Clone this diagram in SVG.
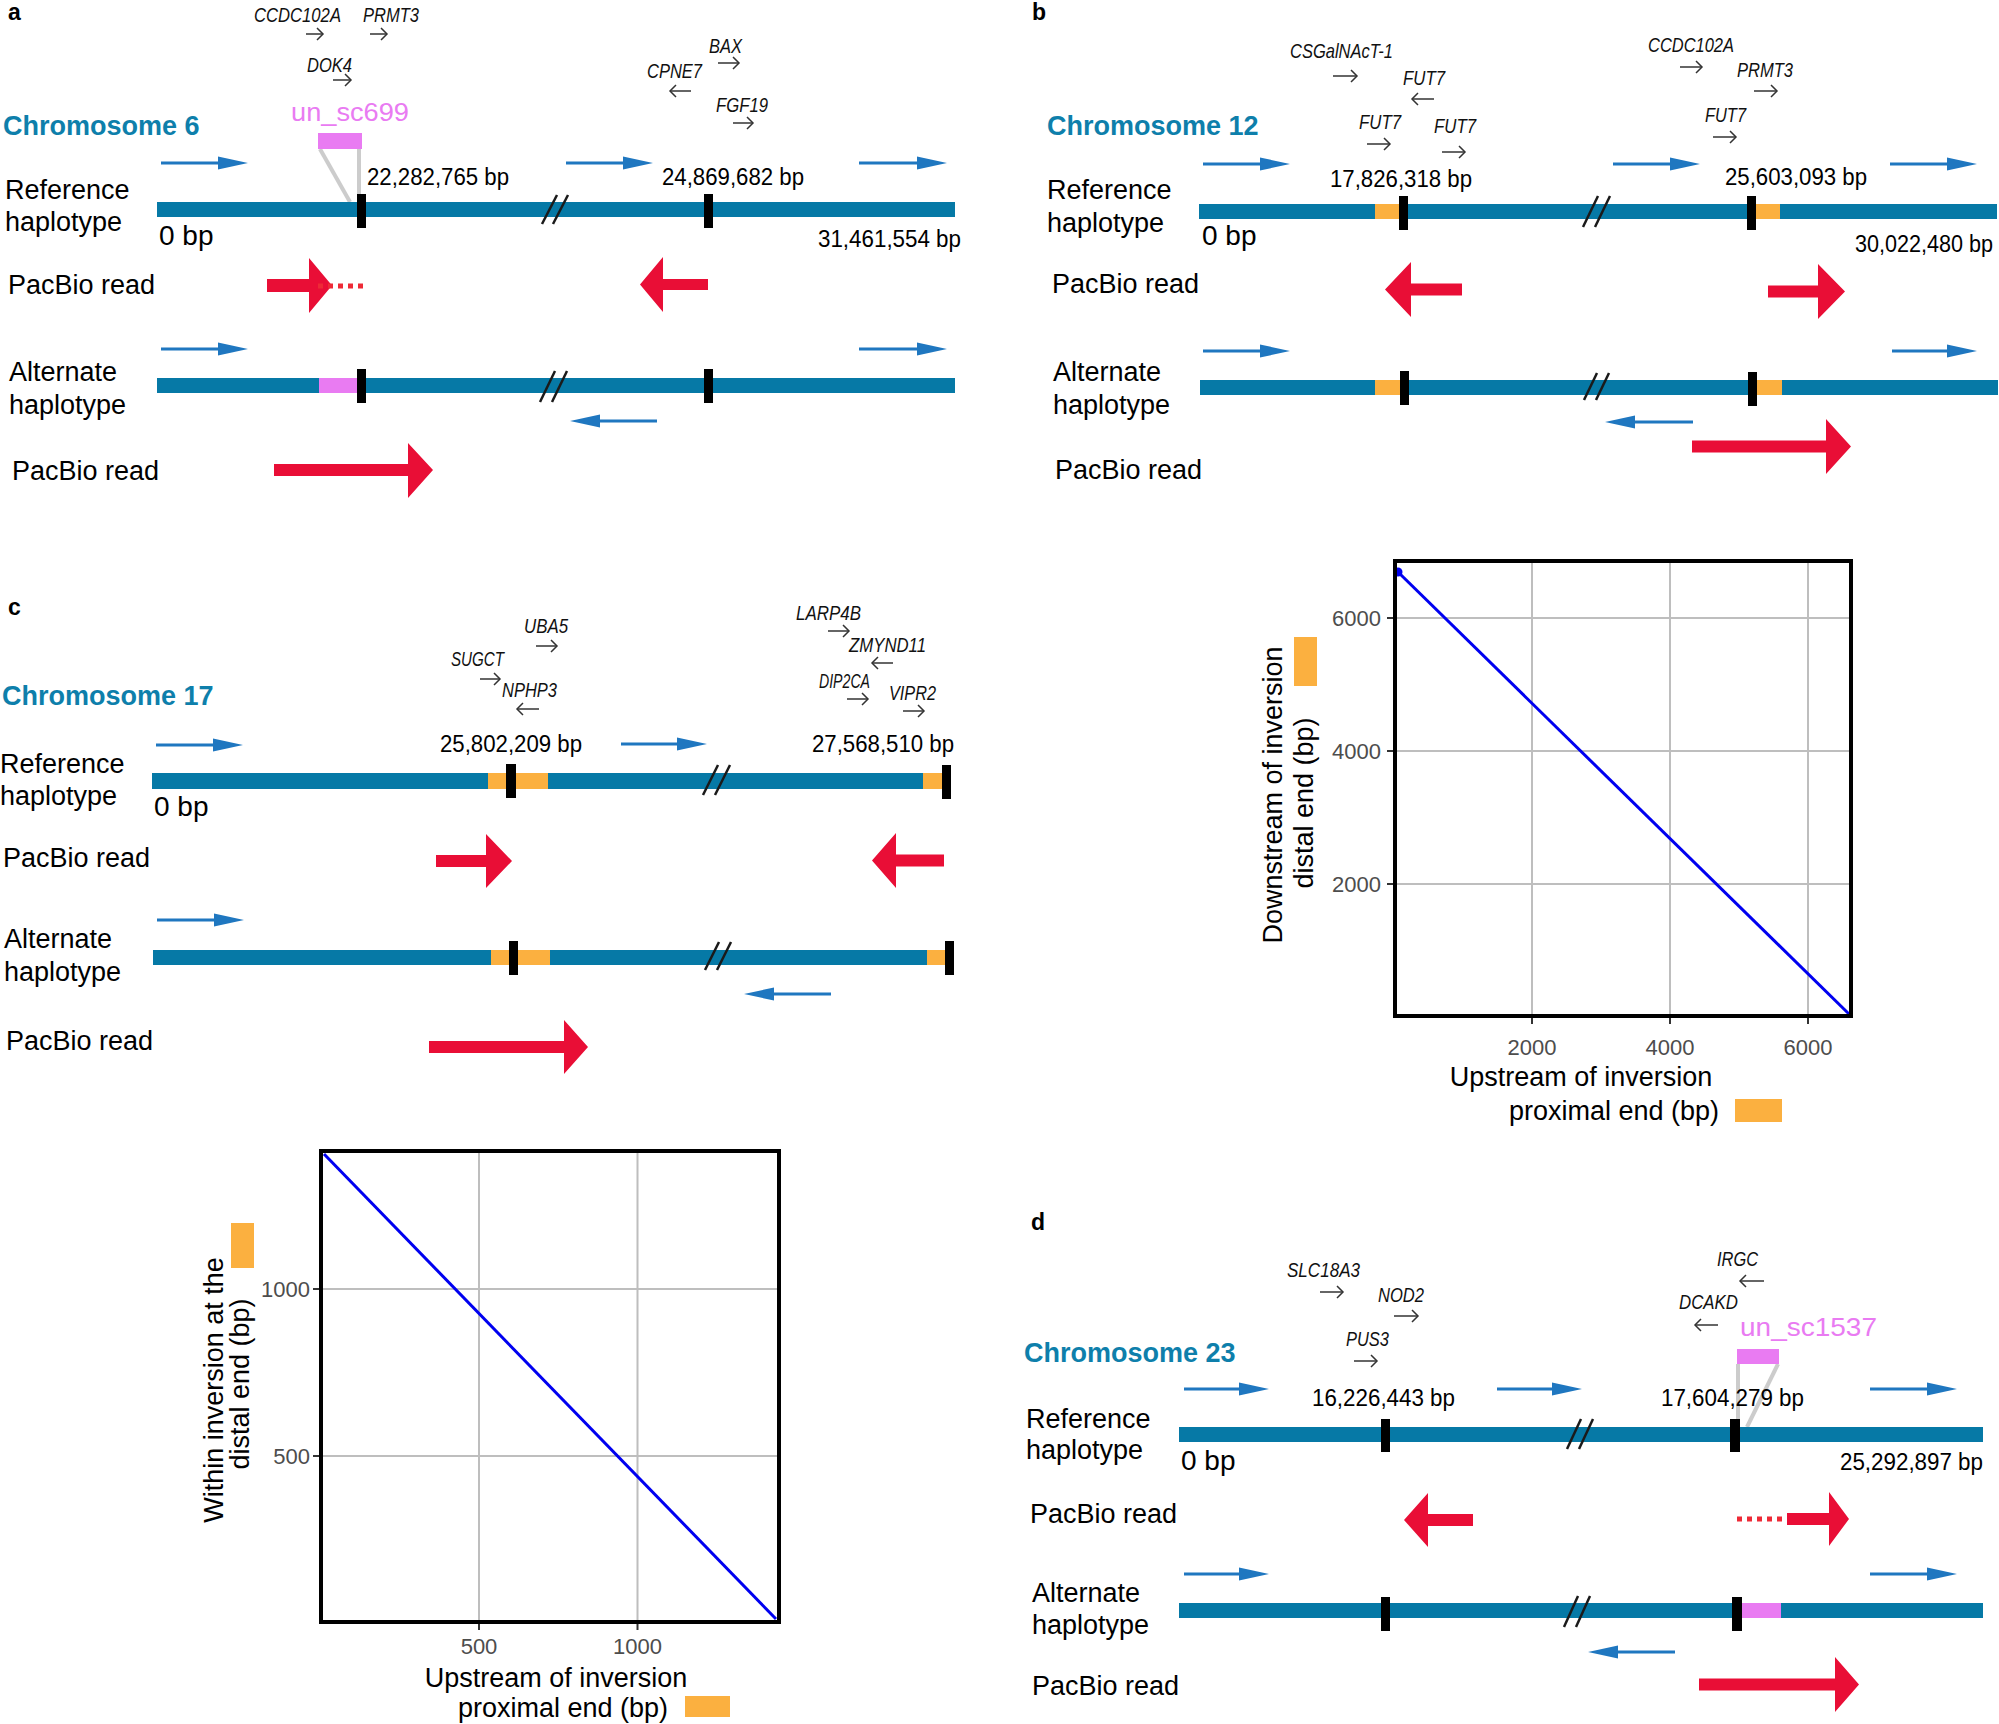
<svg xmlns="http://www.w3.org/2000/svg" width="1999" height="1724" viewBox="0 0 1999 1724">
<defs>
<marker id="bh" markerUnits="userSpaceOnUse" markerWidth="32" markerHeight="14" refX="0" refY="6.5" orient="auto" overflow="visible"><path d="M0,0 L30,6.5 L0,13 z" fill="#1f77c0"/></marker>
<marker id="gh" markerUnits="userSpaceOnUse" markerWidth="10" markerHeight="16" refX="6" refY="6" orient="auto" overflow="visible"><path d="M0,0 L6,6 L0,12" fill="none" stroke="#333" stroke-width="1.5"/></marker>
</defs>
<style>
text{font-family:"Liberation Sans",Arial,sans-serif;fill:#000}
.lab{font-size:27px}
.chr{font-size:27px;font-weight:bold;fill:#0e7fab}
.pl{font-size:23px;font-weight:bold}
.gene{font-size:21px;font-style:italic;fill:#111}
.bp{font-size:23px}
.zb{font-size:28px}
.un{font-size:26px;fill:#e97bf2}
.ax{font-size:27px}
.tk{font-size:22px;fill:#4d4d4d}
.bar{fill:#0679a6}
.org{fill:#fbb040}
.pink{fill:#e97bf2}
.red{fill:#e90e36}
.brk{stroke:#1a1a1a;stroke-width:2.5}
.bl{stroke:#1f77c0;stroke-width:3;fill:none;marker-end:url(#bh)}
.ga{stroke:#333;stroke-width:1.5;fill:none;marker-end:url(#gh)}
.gl{stroke:#cccccc;stroke-width:4}
.dot{stroke:#ee2a36;stroke-width:5;stroke-dasharray:5 5}
.grid{stroke:#bebebe;stroke-width:2}
.frame{fill:none;stroke:#000;stroke-width:4}
.dl{stroke:#0000f0;stroke-width:3}
.axt{stroke:#333;stroke-width:2}
</style>
<rect width="1999" height="1724" fill="#fff"/>

<g id="connectors">
<line class="gl" x1="320" y1="149" x2="350" y2="202"/>
<line class="gl" x1="359" y1="149" x2="359" y2="196"/>
<line class="gl" x1="1738" y1="1364" x2="1738" y2="1427"/>
<line class="gl" x1="1778" y1="1364" x2="1747" y2="1427"/>
</g>

<!-- Panel a -->
<g id="panel-a">
<text class="pl" x="8" y="20">a</text>
<g id="a-genes">
<text class="gene" x="254" y="22" textLength="87" lengthAdjust="spacingAndGlyphs">CCDC102A</text>
<text class="gene" x="363" y="22" textLength="56" lengthAdjust="spacingAndGlyphs">PRMT3</text>
<text class="gene" x="307" y="72" textLength="45" lengthAdjust="spacingAndGlyphs">DOK4</text>
<text class="gene" x="709" y="53" textLength="33" lengthAdjust="spacingAndGlyphs">BAX</text>
<text class="gene" x="647" y="78" textLength="55" lengthAdjust="spacingAndGlyphs">CPNE7</text>
<text class="gene" x="716" y="112" textLength="52" lengthAdjust="spacingAndGlyphs">FGF19</text>
<line class="ga" x1="306" y1="34" x2="323" y2="34"/>
<line class="ga" x1="370" y1="34" x2="387" y2="34"/>
<line class="ga" x1="333" y1="80" x2="351" y2="80"/>
<line class="ga" x1="718" y1="63" x2="739" y2="63"/>
<line class="ga" x1="691" y1="91" x2="670" y2="91"/>
<line class="ga" x1="733" y1="123" x2="753" y2="123"/>
</g>
<text class="chr" x="3" y="135">Chromosome 6</text>
<text class="un" x="291" y="121" textLength="118" lengthAdjust="spacingAndGlyphs">un_sc699</text>
<rect class="pink" x="318" y="133" width="44" height="16"/>
<text class="lab" x="5" y="199">Reference</text>
<text class="lab" x="5" y="231">haplotype</text>
<text class="lab" x="8" y="294">PacBio read</text>
<text class="lab" x="9" y="381">Alternate</text>
<text class="lab" x="9" y="414">haplotype</text>
<text class="lab" x="12" y="480">PacBio read</text>
<g id="a-ref">
<line class="bl" x1="161" y1="163" x2="218" y2="163"/>
<line class="bl" x1="566" y1="163" x2="623" y2="163"/>
<line class="bl" x1="859" y1="163" x2="917" y2="163"/>
<text class="bp" x="367" y="185" textLength="142" lengthAdjust="spacingAndGlyphs">22,282,765 bp</text>
<text class="bp" x="662" y="185" textLength="142" lengthAdjust="spacingAndGlyphs">24,869,682 bp</text>
<rect class="bar" x="157" y="202" width="798" height="15"/>
<rect x="357" y="194" width="9" height="34"/>
<rect x="704" y="194" width="9" height="34"/>
<line class="brk" x1="542" y1="224" x2="557" y2="195"/>
<line class="brk" x1="553" y1="224" x2="568" y2="195"/>
<text class="zb" x="159" y="245">0 bp</text>
<text class="bp" x="818" y="247" textLength="143" lengthAdjust="spacingAndGlyphs">31,461,554 bp</text>
</g>
<g id="a-reads1">
<path class="red" d="M267,279 H309 V258 L332,285.5 L309,313 V292 H267 Z"/>
<line class="dot" x1="318" y1="286" x2="363" y2="286"/>
<path class="red" d="M640,284.5 L663,257 V279 H708 V290 H663 V312 Z"/>
</g>
<g id="a-alt">
<line class="bl" x1="161" y1="349" x2="218" y2="349"/>
<line class="bl" x1="859" y1="349" x2="917" y2="349"/>
<rect class="bar" x="157" y="378" width="798" height="15"/>
<rect class="pink" x="319" y="378" width="38" height="15"/>
<rect x="357" y="369" width="9" height="34"/>
<rect x="704" y="369" width="9" height="34"/>
<line class="brk" x1="540" y1="402" x2="555" y2="371"/>
<line class="brk" x1="552" y1="402" x2="567" y2="371"/>
<line class="bl" x1="657" y1="421" x2="600" y2="421"/>
</g>
<g id="a-reads2">
<path class="red" d="M274,464 H408 V443 L433,470 L408,498 V476 H274 Z"/>
</g>
</g>

<!-- Panel b -->
<g id="panel-b">
<text class="pl" x="1032" y="20">b</text>
<g id="b-genes">
<text class="gene" x="1290" y="58" textLength="103" lengthAdjust="spacingAndGlyphs">CSGalNAcT-1</text>
<text class="gene" x="1403" y="85" textLength="42" lengthAdjust="spacingAndGlyphs">FUT7</text>
<text class="gene" x="1359" y="129" textLength="42" lengthAdjust="spacingAndGlyphs">FUT7</text>
<text class="gene" x="1434" y="133" textLength="42" lengthAdjust="spacingAndGlyphs">FUT7</text>
<text class="gene" x="1648" y="52" textLength="86" lengthAdjust="spacingAndGlyphs">CCDC102A</text>
<text class="gene" x="1737" y="77" textLength="56" lengthAdjust="spacingAndGlyphs">PRMT3</text>
<text class="gene" x="1705" y="122" textLength="41" lengthAdjust="spacingAndGlyphs">FUT7</text>
<line class="ga" x1="1333" y1="76" x2="1357" y2="76"/>
<line class="ga" x1="1434" y1="99" x2="1412" y2="99"/>
<line class="ga" x1="1367" y1="144" x2="1390" y2="144"/>
<line class="ga" x1="1442" y1="152" x2="1465" y2="152"/>
<line class="ga" x1="1680" y1="67" x2="1702" y2="67"/>
<line class="ga" x1="1754" y1="91" x2="1777" y2="91"/>
<line class="ga" x1="1713" y1="137" x2="1736" y2="137"/>
</g>
<text class="chr" x="1047" y="135">Chromosome 12</text>
<text class="lab" x="1047" y="199">Reference</text>
<text class="lab" x="1047" y="232">haplotype</text>
<text class="lab" x="1052" y="293">PacBio read</text>
<text class="lab" x="1053" y="381">Alternate</text>
<text class="lab" x="1053" y="414">haplotype</text>
<text class="lab" x="1055" y="479">PacBio read</text>
<g id="b-ref">
<line class="bl" x1="1203" y1="164" x2="1260" y2="164"/>
<line class="bl" x1="1613" y1="164" x2="1670" y2="164"/>
<line class="bl" x1="1890" y1="164" x2="1947" y2="164"/>
<text class="bp" x="1330" y="187" textLength="142" lengthAdjust="spacingAndGlyphs">17,826,318 bp</text>
<text class="bp" x="1725" y="185" textLength="142" lengthAdjust="spacingAndGlyphs">25,603,093 bp</text>
<rect class="bar" x="1199" y="204" width="798" height="15"/>
<rect class="org" x="1375" y="204" width="24" height="15"/>
<rect class="org" x="1756" y="204" width="24" height="15"/>
<rect x="1399" y="196" width="9" height="34"/>
<rect x="1747" y="196" width="9" height="34"/>
<line class="brk" x1="1583" y1="227" x2="1598" y2="196"/>
<line class="brk" x1="1595" y1="227" x2="1610" y2="196"/>
<text class="zb" x="1202" y="245">0 bp</text>
<text class="bp" x="1855" y="252" textLength="138" lengthAdjust="spacingAndGlyphs">30,022,480 bp</text>
</g>
<g id="b-reads1">
<path class="red" d="M1385,289.5 L1411,262 V283.5 H1462 V295.5 H1411 V317 Z"/>
<path class="red" d="M1768,285.5 H1818 V264 L1845,291.5 L1818,319 V297.5 H1768 Z"/>
</g>
<g id="b-alt">
<line class="bl" x1="1203" y1="351" x2="1260" y2="351"/>
<line class="bl" x1="1892" y1="351" x2="1947" y2="351"/>
<rect class="bar" x="1200" y="380" width="798" height="15"/>
<rect class="org" x="1375" y="380" width="25" height="15"/>
<rect class="org" x="1757" y="380" width="25" height="15"/>
<rect x="1400" y="371" width="9" height="34"/>
<rect x="1748" y="372" width="9" height="34"/>
<line class="brk" x1="1584" y1="400" x2="1597" y2="373"/>
<line class="brk" x1="1596" y1="400" x2="1609" y2="373"/>
<line class="bl" x1="1693" y1="422" x2="1635" y2="422"/>
</g>
<g id="b-reads2">
<path class="red" d="M1692,440.5 H1826 V419 L1851,446.5 L1826,474 V452.5 H1692 Z"/>
</g>
</g>

<!-- Plot b -->
<g id="plot-b">
<line class="grid" x1="1532" y1="561" x2="1532" y2="1016"/>
<line class="grid" x1="1670" y1="561" x2="1670" y2="1016"/>
<line class="grid" x1="1808" y1="561" x2="1808" y2="1016"/>
<line class="grid" x1="1395" y1="618" x2="1851" y2="618"/>
<line class="grid" x1="1395" y1="751" x2="1851" y2="751"/>
<line class="grid" x1="1395" y1="884" x2="1851" y2="884"/>
<line class="dl" x1="1398" y1="572" x2="1849" y2="1014"/>
<circle cx="1398" cy="572" r="4.5" fill="#0000f0"/>
<rect class="frame" x="1395" y="561" width="456" height="455"/>
<line class="axt" x1="1532" y1="1018" x2="1532" y2="1024"/>
<line class="axt" x1="1670" y1="1018" x2="1670" y2="1024"/>
<line class="axt" x1="1808" y1="1018" x2="1808" y2="1024"/>
<line class="axt" x1="1387" y1="618" x2="1393" y2="618"/>
<line class="axt" x1="1387" y1="751" x2="1393" y2="751"/>
<line class="axt" x1="1387" y1="884" x2="1393" y2="884"/>
<text class="tk" x="1532" y="1055" text-anchor="middle">2000</text>
<text class="tk" x="1670" y="1055" text-anchor="middle">4000</text>
<text class="tk" x="1808" y="1055" text-anchor="middle">6000</text>
<text class="tk" x="1381" y="626" text-anchor="end">6000</text>
<text class="tk" x="1381" y="759" text-anchor="end">4000</text>
<text class="tk" x="1381" y="892" text-anchor="end">2000</text>
<text class="ax" x="1581" y="1086" text-anchor="middle">Upstream of inversion</text>
<text class="ax" x="1614" y="1120" text-anchor="middle">proximal end (bp)</text>
<rect class="org" x="1735" y="1099" width="47" height="23"/>
<text class="ax" transform="translate(1282,795) rotate(-90)" text-anchor="middle">Downstream of inversion</text>
<text class="ax" transform="translate(1313,803) rotate(-90)" text-anchor="middle">distal end (bp)</text>
<rect class="org" x="1294" y="637" width="23" height="49"/>
</g>

<!-- Panel c -->
<g id="panel-c">
<text class="pl" x="8" y="615">c</text>
<g id="c-genes">
<text class="gene" x="451" y="666" textLength="53" lengthAdjust="spacingAndGlyphs">SUGCT</text>
<text class="gene" x="524" y="633" textLength="44" lengthAdjust="spacingAndGlyphs">UBA5</text>
<text class="gene" x="502" y="697" textLength="55" lengthAdjust="spacingAndGlyphs">NPHP3</text>
<text class="gene" x="796" y="620" textLength="65" lengthAdjust="spacingAndGlyphs">LARP4B</text>
<text class="gene" x="849" y="652" textLength="77" lengthAdjust="spacingAndGlyphs">ZMYND11</text>
<text class="gene" x="819" y="688" textLength="51" lengthAdjust="spacingAndGlyphs">DIP2CA</text>
<text class="gene" x="889" y="700" textLength="47" lengthAdjust="spacingAndGlyphs">VIPR2</text>
<line class="ga" x1="480" y1="679" x2="500" y2="679"/>
<line class="ga" x1="536" y1="646" x2="557" y2="646"/>
<line class="ga" x1="539" y1="709" x2="517" y2="709"/>
<line class="ga" x1="828" y1="631" x2="849" y2="631"/>
<line class="ga" x1="893" y1="663" x2="872" y2="663"/>
<line class="ga" x1="847" y1="699" x2="868" y2="699"/>
<line class="ga" x1="903" y1="711" x2="924" y2="711"/>
</g>
<text class="chr" x="2" y="705">Chromosome 17</text>
<text class="lab" x="0" y="773">Reference</text>
<text class="lab" x="0" y="805">haplotype</text>
<text class="lab" x="3" y="867">PacBio read</text>
<text class="lab" x="4" y="948">Alternate</text>
<text class="lab" x="4" y="981">haplotype</text>
<text class="lab" x="6" y="1050">PacBio read</text>
<g id="c-ref">
<line class="bl" x1="156" y1="745" x2="213" y2="745"/>
<line class="bl" x1="621" y1="744" x2="677" y2="744"/>
<text class="bp" x="440" y="752" textLength="142" lengthAdjust="spacingAndGlyphs">25,802,209 bp</text>
<text class="bp" x="812" y="752" textLength="142" lengthAdjust="spacingAndGlyphs">27,568,510 bp</text>
<rect class="bar" x="152" y="773" width="798" height="16"/>
<rect class="org" x="488" y="773" width="60" height="16"/>
<rect class="org" x="923" y="773" width="20" height="16"/>
<rect x="506" y="764" width="10" height="34"/>
<rect x="942" y="765" width="9" height="34"/>
<line class="brk" x1="703" y1="795" x2="718" y2="765"/>
<line class="brk" x1="715" y1="795" x2="730" y2="765"/>
<text class="zb" x="154" y="816">0 bp</text>
</g>
<g id="c-reads1">
<path class="red" d="M436,855 H486 V834 L512,861 L486,888 V867 H436 Z"/>
<path class="red" d="M872,860.5 L896,833 V854.5 H944 V866.5 H896 V888 Z"/>
</g>
<g id="c-alt">
<line class="bl" x1="157" y1="920" x2="214" y2="920"/>
<rect class="bar" x="153" y="950" width="797" height="15"/>
<rect class="org" x="491" y="950" width="59" height="15"/>
<rect class="org" x="927" y="950" width="19" height="15"/>
<rect x="509" y="941" width="9" height="34"/>
<rect x="945" y="941" width="9" height="34"/>
<line class="brk" x1="705" y1="970" x2="719" y2="942"/>
<line class="brk" x1="717" y1="970" x2="731" y2="942"/>
<line class="bl" x1="831" y1="994" x2="774" y2="994"/>
</g>
<g id="c-reads2">
<path class="red" d="M429,1041 H564 V1020 L588,1047 L564,1074 V1053 H429 Z"/>
</g>
</g>

<!-- Plot c -->
<g id="plot-c">
<line class="grid" x1="479" y1="1151" x2="479" y2="1622"/>
<line class="grid" x1="637.5" y1="1151" x2="637.5" y2="1622"/>
<line class="grid" x1="321" y1="1289" x2="779" y2="1289"/>
<line class="grid" x1="321" y1="1456" x2="779" y2="1456"/>
<line class="dl" x1="324" y1="1154" x2="776" y2="1619"/>
<rect class="frame" x="321" y="1151" width="458" height="471"/>
<line class="axt" x1="479" y1="1624" x2="479" y2="1630"/>
<line class="axt" x1="637.5" y1="1624" x2="637.5" y2="1630"/>
<line class="axt" x1="313" y1="1289" x2="319" y2="1289"/>
<line class="axt" x1="313" y1="1456" x2="319" y2="1456"/>
<text class="tk" x="479" y="1654" text-anchor="middle">500</text>
<text class="tk" x="637.5" y="1654" text-anchor="middle">1000</text>
<text class="tk" x="310" y="1297" text-anchor="end">1000</text>
<text class="tk" x="310" y="1464" text-anchor="end">500</text>
<text class="ax" x="556" y="1687" text-anchor="middle">Upstream of inversion</text>
<text class="ax" x="563" y="1717" text-anchor="middle">proximal end (bp)</text>
<rect class="org" x="685" y="1696" width="45" height="21"/>
<text class="ax" transform="translate(223,1390) rotate(-90)" text-anchor="middle">Within inversion at the</text>
<text class="ax" transform="translate(249,1384) rotate(-90)" text-anchor="middle">distal end (bp)</text>
<rect class="org" x="231" y="1223" width="23" height="45"/>
</g>

<!-- Panel d -->
<g id="panel-d">
<text class="pl" x="1031" y="1230">d</text>
<g id="d-genes">
<text class="gene" x="1287" y="1277" textLength="73" lengthAdjust="spacingAndGlyphs">SLC18A3</text>
<text class="gene" x="1378" y="1302" textLength="46" lengthAdjust="spacingAndGlyphs">NOD2</text>
<text class="gene" x="1346" y="1346" textLength="43" lengthAdjust="spacingAndGlyphs">PUS3</text>
<text class="gene" x="1717" y="1266" textLength="41" lengthAdjust="spacingAndGlyphs">IRGC</text>
<text class="gene" x="1679" y="1309" textLength="59" lengthAdjust="spacingAndGlyphs">DCAKD</text>
<line class="ga" x1="1320" y1="1292" x2="1343" y2="1292"/>
<line class="ga" x1="1394" y1="1316" x2="1418" y2="1316"/>
<line class="ga" x1="1354" y1="1361" x2="1377" y2="1361"/>
<line class="ga" x1="1764" y1="1281" x2="1740" y2="1281"/>
<line class="ga" x1="1718" y1="1325" x2="1695" y2="1325"/>
</g>
<text class="chr" x="1024" y="1362">Chromosome 23</text>
<text class="un" x="1740" y="1336" textLength="137" lengthAdjust="spacingAndGlyphs">un_sc1537</text>
<rect class="pink" x="1737" y="1349" width="42" height="15"/>
<text class="lab" x="1026" y="1428">Reference</text>
<text class="lab" x="1026" y="1459">haplotype</text>
<text class="lab" x="1030" y="1523">PacBio read</text>
<text class="lab" x="1032" y="1602">Alternate</text>
<text class="lab" x="1032" y="1634">haplotype</text>
<text class="lab" x="1032" y="1695">PacBio read</text>
<g id="d-ref">
<line class="bl" x1="1184" y1="1389" x2="1239" y2="1389"/>
<line class="bl" x1="1497" y1="1389" x2="1552" y2="1389"/>
<line class="bl" x1="1870" y1="1389" x2="1927" y2="1389"/>
<text class="bp" x="1312" y="1406" textLength="143" lengthAdjust="spacingAndGlyphs">16,226,443 bp</text>
<text class="bp" x="1661" y="1406" textLength="143" lengthAdjust="spacingAndGlyphs">17,604,279 bp</text>
<rect class="bar" x="1179" y="1427" width="804" height="15"/>
<rect x="1381" y="1419" width="9" height="33"/>
<rect x="1730" y="1419" width="10" height="33"/>
<line class="brk" x1="1567" y1="1449" x2="1581" y2="1419"/>
<line class="brk" x1="1579" y1="1449" x2="1593" y2="1419"/>
<text class="zb" x="1181" y="1470">0 bp</text>
<text class="bp" x="1840" y="1470" textLength="143" lengthAdjust="spacingAndGlyphs">25,292,897 bp</text>
</g>
<g id="d-reads1">
<path class="red" d="M1404,1520 L1428,1493 V1514 H1473 V1526 H1428 V1547 Z"/>
<line class="dot" x1="1737" y1="1519" x2="1787" y2="1519"/>
<path class="red" d="M1787,1513 H1829 V1492 L1849,1519 L1829,1546 V1525 H1787 Z"/>
</g>
<g id="d-alt">
<line class="bl" x1="1184" y1="1574" x2="1239" y2="1574"/>
<line class="bl" x1="1870" y1="1574" x2="1927" y2="1574"/>
<rect class="bar" x="1179" y="1603" width="804" height="15"/>
<rect class="pink" x="1742" y="1603" width="39" height="15"/>
<rect x="1381" y="1597" width="9" height="34"/>
<rect x="1732" y="1597" width="10" height="34"/>
<line class="brk" x1="1564" y1="1627" x2="1578" y2="1596"/>
<line class="brk" x1="1576" y1="1627" x2="1590" y2="1596"/>
<line class="bl" x1="1675" y1="1652" x2="1618" y2="1652"/>
</g>
<g id="d-reads2">
<path class="red" d="M1699,1678.5 H1835 V1657 L1859,1684.5 L1835,1712 V1690.5 H1699 Z"/>
</g>
</g>
</svg>
